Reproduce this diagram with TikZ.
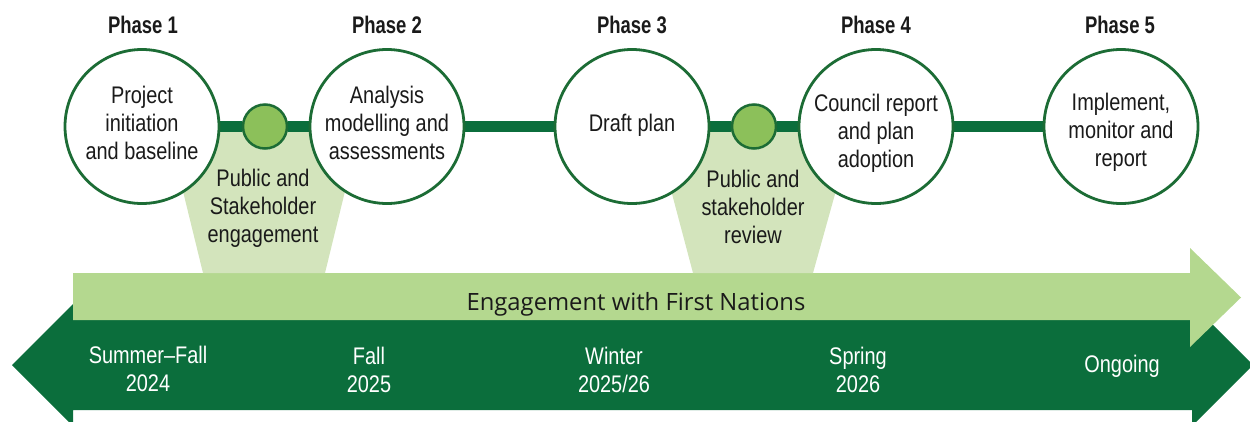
\documentclass[tikz,border=0pt]{standalone}
\usepackage{fontspec}
\setmainfont{Liberation Sans}
\newfontfamily\condfont[FakeStretch=0.83]{Liberation Sans}
\newfontfamily\phasefont[FakeStretch=0.77]{Liberation Sans}
\newfontfamily\engfont{Open Sans}
\definecolor{dkgreen}{HTML}{0B6E3C}
\definecolor{ringgreen}{HTML}{1C6C35}
\definecolor{ltarrow}{HTML}{B4D88F}
\definecolor{trapfill}{HTML}{D3E4BC}
\definecolor{dotgreen}{HTML}{8CC05A}
\definecolor{txtcol}{HTML}{1A1A1A}
\pgfdeclarelayer{bg}
\pgfsetlayers{bg,main}
\tikzset{
  phasecircle/.style={circle, draw=ringgreen, line width=2.8pt, fill=white, minimum size=154pt, inner sep=0pt},
  engdot/.style={circle, draw=ringgreen, line width=2.5pt, fill=dotgreen, minimum size=44pt, inner sep=0pt},
  conn/.style={draw=dkgreen, line width=11pt},
  bodytext/.style={font=\condfont\fontsize{24}{28}\selectfont, text=txtcol, align=center, inner sep=0pt},
  datetext/.style={font=\condfont\fontsize{24}{28}\selectfont, text=white, align=center, inner sep=0pt},
  phaselabel/.style={font=\phasefont\bfseries\fontsize{24}{28}\selectfont, text=txtcol, inner sep=0pt},
}
\begin{document}
\begin{tikzpicture}[x=1pt,y=-1pt]
\useasboundingbox (0,0) rectangle (1250,421);
% phase circles
\node[phasecircle] (p1) at (142,126.5) {};
\node[phasecircle] (p2) at (387,126.5) {};
\node[phasecircle] (p3) at (632,126.5) {};
\node[phasecircle] (p4) at (876,126.5) {};
\node[phasecircle] (p5) at (1121,126.5) {};
% engagement dots
\node[engdot] (e1) at (265,126.5) {};
\node[engdot] (e2) at (754,126.5) {};
\begin{pgfonlayer}{bg}
  % dark timeline double arrow
  \fill[dkgreen] (12,365) -- (73,304) -- (73,320) -- (1192,320) -- (1192,304)
     -- (1253,365) -- (1192,426) -- (1192,410) -- (73,410) -- (73,426) -- cycle;
  % light engagement arrow
  \fill[ltarrow] (73,273) -- (1190,273) -- (1190,248) -- (1241,297.5)
     -- (1190,347) -- (1190,320) -- (73,320) -- cycle;
  % funnels
  \fill[trapfill] (167,126) -- (361,126) -- (325,273) -- (203,273) -- cycle;
  \fill[trapfill] (654,126) -- (854,126) -- (813,273) -- (693,273) -- cycle;
  % connector line
  \draw[conn] (p1) -- (e1) -- (p2) -- (p3) -- (e2) -- (p4) -- (p5);
\end{pgfonlayer}
% phase labels
\node[phaselabel] (ph1) at (143,24.5) {Phase 1};
\node[phaselabel] (ph2) at (387,24.5) {Phase 2};
\node[phaselabel] (ph3) at (632,24.5) {Phase 3};
\node[phaselabel] (ph4) at (876,24.5) {Phase 4};
\node[phaselabel] (ph5) at (1120,24.5) {Phase 5};
% circle texts
\node[bodytext] (t1) at (142,123) {Project\\initiation\\and baseline};
\node[bodytext] (t2) at (387,123) {Analysis\\modelling and\\assessments};
\node[bodytext] (t3) at (632,125.5) {Draft plan};
\node[bodytext] (t4) at (876,133) {Council report\\and plan\\adoption};
\node[bodytext] (t5) at (1121,132.5) {Implement,\\monitor and\\report};
% funnel texts
\node[bodytext] (f1) at (263,208) {Public and\\Stakeholder\\engagement};
\node[bodytext] (f2) at (753,207) {Public and\\stakeholder\\review};
% engagement text
\node[font=\engfont\fontsize{23.8}{28}\selectfont, text=txtcol, inner sep=0pt] (eng) at (636,304) {Engagement with First Nations};
% date texts
\node[datetext] (d1) at (148,369) {Summer–Fall\\2024};
\node[datetext] (d2) at (369,369.5) {Fall\\2025};
\node[datetext] (d3) at (614,370) {Winter\\2025/26};
\node[datetext] (d4) at (858,370) {Spring\\2026};
\node[datetext] (d5) at (1122,366.5) {Ongoing};
\end{tikzpicture}
\end{document}
